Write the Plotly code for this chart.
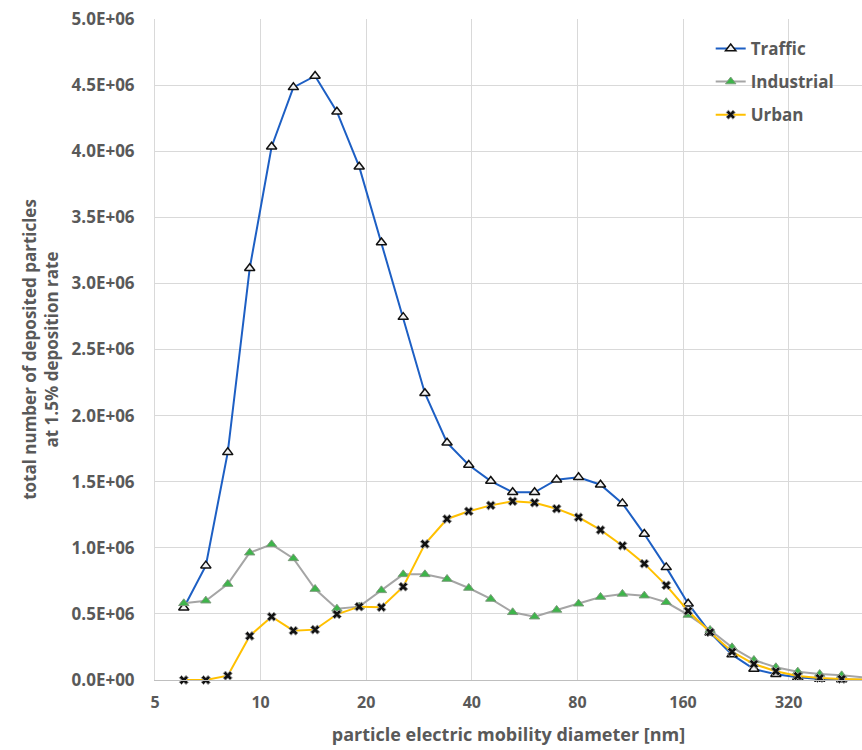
import plotly.graph_objects as go

# Bin mid-point diameters [nm], 16 channels per decade
diameters = [6.04, 6.98, 8.06, 9.31, 10.75, 12.4, 14.3, 16.5, 19.1, 22.1, 25.5,
             29.4, 34.0, 39.2, 45.3, 52.3, 60.4, 69.8, 80.6, 93.1, 107.5, 124.1,
             143.3, 165.5, 191.1, 220.7, 254.8, 294.3, 339.8, 392.4, 453.2, 523.3]

traffic = [0.547e6, 0.865e6, 1.722e6, 3.114e6, 4.034e6, 4.483e6, 4.569e6, 4.299e6,
           3.883e6, 3.31e6, 2.745e6, 2.169e6, 1.795e6, 1.626e6, 1.505e6, 1.420e6,
           1.420e6, 1.515e6, 1.533e6, 1.477e6, 1.336e6, 1.104e6, 0.852e6, 0.577e6,
           0.358e6, 0.192e6, 0.083e6, 0.043e6, 0.020e6, 0.008e6, 0.003e6, 0.002e6]

industrial = [0.580e6, 0.600e6, 0.726e6, 0.963e6, 1.026e6, 0.920e6, 0.688e6, 0.539e6,
              0.555e6, 0.678e6, 0.799e6, 0.799e6, 0.764e6, 0.696e6, 0.613e6, 0.512e6,
              0.479e6, 0.530e6, 0.577e6, 0.628e6, 0.651e6, 0.638e6, 0.588e6, 0.492e6,
              0.378e6, 0.247e6, 0.151e6, 0.096e6, 0.063e6, 0.045e6, 0.035e6, 0.020e6]

urban = [0.0, 0.0, 0.033e6, 0.333e6, 0.479e6, 0.373e6, 0.381e6, 0.497e6,
         0.555e6, 0.550e6, 0.706e6, 1.029e6, 1.218e6, 1.276e6, 1.321e6, 1.352e6,
         1.341e6, 1.296e6, 1.231e6, 1.135e6, 1.016e6, 0.880e6, 0.716e6, 0.522e6,
         0.361e6, 0.214e6, 0.121e6, 0.066e6, 0.030e6, 0.015e6, 0.008e6, 0.003e6]

x_ticks = [5, 10, 20, 40, 80, 160, 320]
x_tick_labels = ["5", "10", "20", "40", "80", "160", "320"]
y_ticks = [i * 0.5e6 for i in range(11)]
y_tick_labels = ["%.1fE+06" % (v / 1e6) if v > 0 else "0.0E+00" for v in y_ticks]

FONT = "Open Sans"
TEXT_COLOR = "#595959"
GRID = "#D9D9D9"

fig = go.Figure()

fig.add_trace(go.Scatter(
    x=diameters, y=traffic, name="Traffic", mode="lines+markers",
    line=dict(color="#1D5FC4", width=2),
    marker=dict(symbol="triangle-up", size=9, color="#F2F2F2",
                line=dict(color="#111111", width=1.5)),
    cliponaxis=False, legendgroup="a",
))
fig.add_trace(go.Scatter(
    x=diameters, y=industrial, name="Industrial", mode="lines+markers",
    line=dict(color="#A5A5A5", width=2),
    marker=dict(symbol="triangle-up", size=9, color="#3DB54A",
                line=dict(color="#7A9A7A", width=1)),
    cliponaxis=False, legendgroup="b",
))
fig.add_trace(go.Scatter(
    x=diameters, y=urban, name="Urban", mode="lines+markers",
    line=dict(color="#FFC000", width=2),
    marker=dict(symbol="x", size=8, color="#111111",
                line=dict(color="#9A9A9A", width=1)),
    cliponaxis=False, legendgroup="c",
))

fig.update_layout(
    width=862, height=750,
    margin=dict(l=155, r=0, t=19, b=70),
    paper_bgcolor="white", plot_bgcolor="white",
    font=dict(family=FONT, color=TEXT_COLOR, size=16),
    legend=dict(
        x=0.786, y=0.982, xanchor="left", yanchor="top",
        bgcolor="rgba(255,255,255,0)",
        font=dict(family=FONT, size=17, color=TEXT_COLOR, weight="bold"),
        tracegroupgap=8, itemwidth=30,
    ),
    xaxis=dict(
        type="log",
        range=[0.69897, 2.7143],
        tickvals=x_ticks, ticktext=x_tick_labels,
        showgrid=True, gridcolor=GRID, gridwidth=1,
        showline=True, linecolor="#BFBFBF", linewidth=1,
        zeroline=False, ticks="", ticklabelstandoff=8,
        tickfont=dict(family=FONT, size=16, color=TEXT_COLOR, weight="bold"),
        title=dict(text="particle electric mobility diameter [nm]",
                   font=dict(family=FONT, size=18, color=TEXT_COLOR, weight="bold"),
                   standoff=16),
    ),
    yaxis=dict(
        range=[0, 5.0e6],
        tickvals=y_ticks, ticktext=y_tick_labels,
        showgrid=True, gridcolor=GRID, gridwidth=1,
        showline=True, linecolor=GRID, linewidth=1,
        zeroline=False, ticks="", ticklabelstandoff=16,
        tickfont=dict(family=FONT, size=17, color=TEXT_COLOR, weight="bold"),
        title=dict(text="total number of deposited particles<br>at 1.5% deposition rate",
                   font=dict(family=FONT, size=17, color=TEXT_COLOR, weight="bold"),
                   standoff=8),
    ),
)

fig.write_html("out.html")
